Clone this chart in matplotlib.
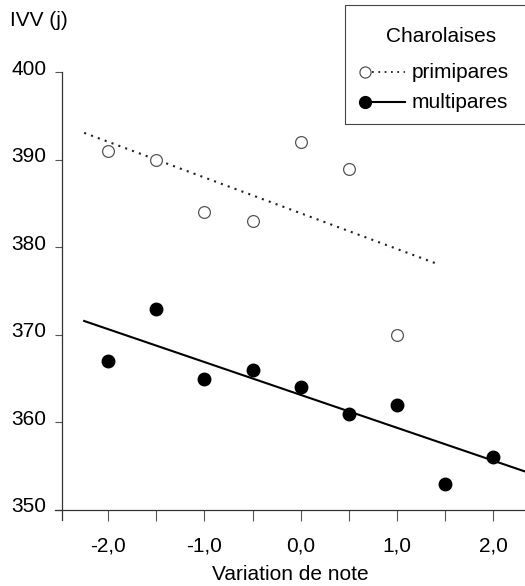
"""IVV en fonction de la variation de note - Charolaises."""
import matplotlib.pyplot as plt
from matplotlib.lines import Line2D
from matplotlib.patches import Rectangle
from matplotlib.transforms import ScaledTranslation

plt.rcParams['font.family'] = ['Liberation Sans', 'DejaVu Sans']

# Données
primi_x = [-2.0, -1.5, -1.0, -0.5, 0.0, 0.5, 1.0]
primi_y = [391, 390, 384, 383, 392, 389, 370]
multi_x = [-2.0, -1.5, -1.0, -0.5, 0.0, 0.5, 1.0, 1.5, 2.0]
multi_y = [367, 373, 365, 366, 364, 361, 362, 353, 356]

# Droites de régression (extrémités)
primi_fit_x = [-2.25, 1.4]
primi_fit_y = [393.1, 378.2]
multi_fit_x = [-2.25, 2.33]
multi_fit_y = [371.6, 354.4]

xticks = [-2.0, -1.0, 0.0, 1.0, 2.0]
xtick_labels = ['-2,0', '-1,0', '0,0', '1,0', '2,0']
xticks_minor = [-1.5, -0.5, 0.5, 1.5]
yticks = [350, 360, 370, 380, 390, 400]

W, H = 525, 586
FS = 15
fig = plt.figure(figsize=(W / 100, H / 100), dpi=100)
ax = fig.add_axes([0.1053, 0.1118, 0.8947, 0.7645])

ax.plot(primi_fit_x, primi_fit_y, color='#222222', lw=1.5,
        linestyle=(0, (1, 2.5)))
ax.plot(multi_fit_x, multi_fit_y, color='black', lw=1.5)
ax.plot(primi_x, primi_y, 'o', ms=8.5, mfc='white', mec='#555555',
        mew=0.9, linestyle='none')
ax.plot(multi_x, multi_y, 'o', ms=9, color='black', linestyle='none')

ax.set_xlim(-2.55, 2.33)
ax.set_ylim(348.8, 400)
ax.spines['left'].set_position(('data', -2.48))
ax.spines['bottom'].set_position(('data', 350))
ax.spines['right'].set_visible(False)
ax.spines['top'].set_visible(False)
for s in ['left', 'bottom']:
    ax.spines[s].set_color('#333333')
    ax.spines[s].set_linewidth(0.9)

ax.set_xticks(xticks)
ax.set_xticklabels(xtick_labels)
ax.set_xticks(xticks_minor, minor=True)
ax.set_yticks(yticks)
ax.tick_params(axis='x', which='both', direction='out', length=8,
               width=0.8, color='#555555', labelsize=FS, pad=11)
ax.tick_params(axis='y', direction='out', length=5, width=0.8,
               color='#555555', labelsize=FS, pad=6)
for lab in ax.get_yticklabels():
    lab.set_transform(lab.get_transform() +
                      ScaledTranslation(0, 0.05, fig.dpi_scale_trans))
ax.set_xlabel('Variation de note', fontsize=FS, labelpad=7)

fig.text(10 / W, 1 - 20 / H, 'IVV (j)', fontsize=FS, va='center', ha='left')

# Légende dessinée à la main
fig.add_artist(Rectangle((345 / W, 1 - 124 / H), 200 / W, 119 / H,
                         transform=fig.transFigure, fill=False,
                         edgecolor='#444444', lw=0.8))
fig.text(441 / W, 1 - 37 / H, 'Charolaises', fontsize=FS,
         ha='center', va='center')
y1 = 1 - 72 / H
y2 = 1 - 102 / H
fig.add_artist(Line2D([372 / W, 405 / W], [y1, y1], transform=fig.transFigure,
                      color='#222222', lw=1.3, linestyle=(0, (1, 2.5))))
fig.add_artist(Line2D([365 / W], [y1], transform=fig.transFigure, marker='o',
                      ms=8, mfc='white', mec='#555555', mew=0.9))
fig.add_artist(Line2D([368 / W, 405 / W], [y2, y2], transform=fig.transFigure,
                      color='black', lw=1.5))
fig.add_artist(Line2D([365 / W], [y2], transform=fig.transFigure, marker='o',
                      ms=8.5, color='black'))
fig.text(412 / W, y1, 'primipares', fontsize=FS, va='center', ha='left')
fig.text(412 / W, y2, 'multipares', fontsize=FS, va='center', ha='left')

plt.savefig('out.png', dpi=100)
